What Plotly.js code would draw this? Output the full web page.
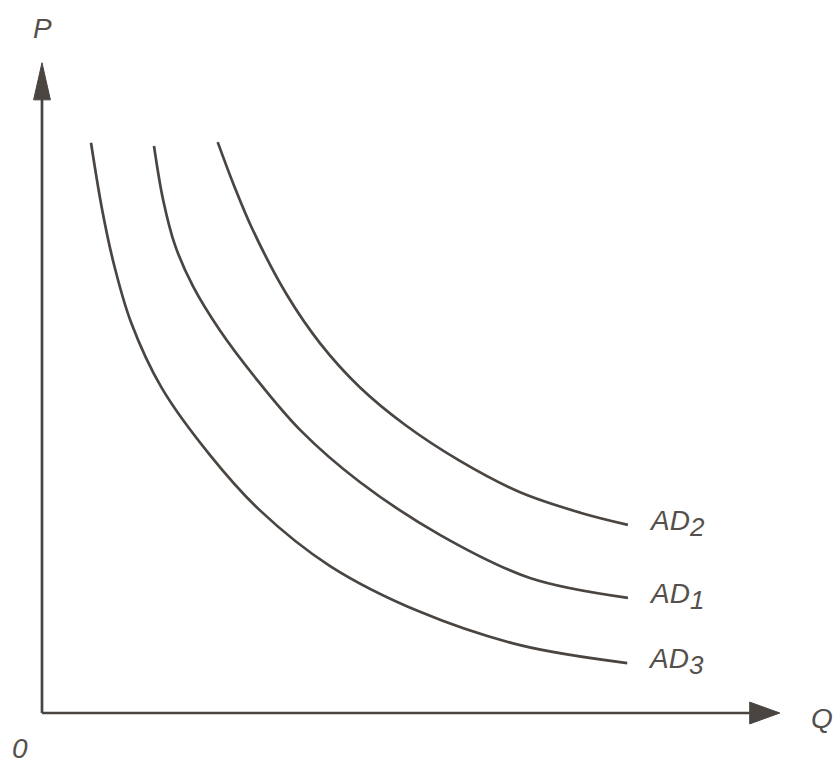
<!DOCTYPE html>
<html>
<head>
<meta charset="utf-8">
<script src="https://cdn.plot.ly/plotly-3.0.1.min.js"></script>
<style>html,body{margin:0;padding:0;background:#fff;}#chart{width:837px;height:769px;}</style>
</head>
<body>
<div id="chart"></div>
<script>
// Aggregate demand curves (Q = quantity, P = price level)
const qAD3 = [0.70, 0.86, 1.03, 1.27, 1.71, 2.40, 3.11, 4.11, 5.40, 6.83, 8.36];
const pAD3 = [8.91, 7.86, 7.00, 6.11, 5.08, 4.03, 3.17, 2.30, 1.58, 1.06, 0.78];

const qAD1 = [1.60, 1.73, 1.90, 2.16, 2.54, 3.04, 3.69, 4.54, 5.69, 6.97, 8.37];
const pAD1 = [8.86, 8.02, 7.31, 6.66, 5.98, 5.25, 4.42, 3.61, 2.78, 2.11, 1.80];

const qAD2 = [2.51, 2.74, 3.01, 3.50, 3.97, 4.54, 5.19, 5.97, 6.83, 7.69, 8.37];
const pAD2 = [8.92, 8.25, 7.55, 6.53, 5.78, 5.09, 4.50, 3.94, 3.45, 3.13, 2.94];

const curveNames = ["AD", "AD", "AD"];
const curveSubs = ["2", "1", "3"];
const axisLabels = {x: "Q", y: "P", origin: "0"};

const lineColor = "#4a4541";
const textColor = "#55504b";

const series = [
  {q: qAD2, p: pAD2, name: curveNames[0], sub: curveSubs[0]},
  {q: qAD1, p: pAD1, name: curveNames[1], sub: curveSubs[1]},
  {q: qAD3, p: pAD3, name: curveNames[2], sub: curveSubs[2]}
];

const traces = series.map(s => ({
  x: s.q, y: s.p, mode: "lines", type: "scatter",
  line: {color: lineColor, width: 2.7, shape: "spline", smoothing: 1.0},
  hoverinfo: "skip", showlegend: false
}));

const labelFont = {family: "Liberation Sans", size: 28, color: textColor, style: "italic"};

const annotations = series.map(s => ({
  x: s.q[s.q.length - 1] + 0.27, y: s.p[s.p.length - 1] + 0.02,
  xref: "x", yref: "y",
  text: s.name + "<sub><span style=\"font-size:26px\">" + s.sub + "</span></sub>",
  showarrow: false, xanchor: "left", yanchor: "middle", font: labelFont
}));

annotations.push(
  {x: 0.01, y: 10.70, xref: "x", yref: "y", text: axisLabels.y, showarrow: false,
   xanchor: "center", yanchor: "middle", font: labelFont},
  {x: 11.14, y: -0.09, xref: "x", yref: "y", text: axisLabels.x, showarrow: false,
   xanchor: "center", yanchor: "middle", font: labelFont},
  {x: -0.31, y: -0.55, xref: "x", yref: "y", text: axisLabels.origin, showarrow: false,
   xanchor: "center", yanchor: "middle", font: labelFont}
);

// axis lines + arrowheads (decoration)
const yTip = 10.16, yBase = 9.58, yHalfW = 0.12;
const xTip = 10.54, xBase = 10.11, xHalfH = 0.17;
const shapes = [
  {type: "line", x0: 0, y0: 0, x1: 0, y1: yBase + 0.05, line: {color: lineColor, width: 2.7}},
  {type: "line", x0: 0, y0: 0, x1: xBase + 0.05, y1: 0, line: {color: lineColor, width: 2.7}},
  {type: "path", path: `M ${-yHalfW} ${yBase} L 0 ${yTip} L ${yHalfW} ${yBase} Z`,
   fillcolor: lineColor, line: {color: lineColor, width: 1}},
  {type: "path", path: `M ${xBase} ${-xHalfH} L ${xTip} 0 L ${xBase} ${xHalfH} Z`,
   fillcolor: lineColor, line: {color: lineColor, width: 1}}
];

const layout = {
  width: 837, height: 769,
  margin: {l: 0, r: 0, t: 0, b: 0},
  paper_bgcolor: "#ffffff", plot_bgcolor: "#ffffff",
  xaxis: {range: [-0.6, 11.357], visible: false, fixedrange: true},
  yaxis: {range: [-0.875, 11.14], visible: false, fixedrange: true},
  shapes: shapes,
  annotations: annotations,
  showlegend: false
};

Plotly.newPlot("chart", traces, layout, {displayModeBar: false});
</script>
</body>
</html>
